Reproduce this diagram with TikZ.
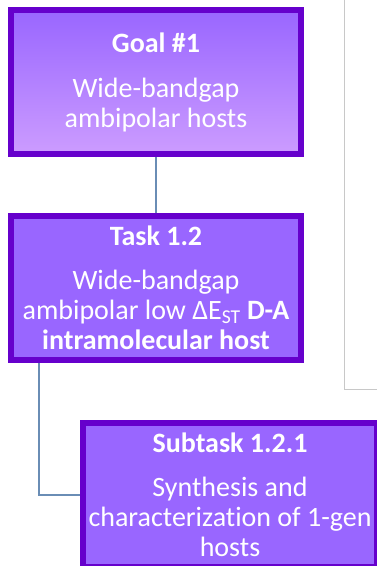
\documentclass[tikz,border=0pt]{standalone}
\usepackage{fontspec}
\setmainfont[RawFeature=-liga]{Carlito}
\definecolor{boxborder}{HTML}{6600CC}
\definecolor{boxfill}{HTML}{9966FF}
\definecolor{goaltop}{HTML}{9966FF}
\definecolor{goalbot}{HTML}{CC9CFF}
\definecolor{conn}{HTML}{6A8DB5}
\definecolor{graybar}{HTML}{C8C8C8}
\tikzset{
  wbox/.style={draw=boxborder, line width=6pt, minimum width=290pt, minimum height=144pt,
    inner sep=0pt, align=center, text=white,
    font=\fontsize{28}{30}\selectfont},
  link/.style={draw=conn, line width=2pt},
}
\begin{document}
\begin{tikzpicture}[x=1pt,y=-1pt]
\clip (0,0) rectangle (377,566);
\fill[white] (0,0) rectangle (377,566);
% light gray frame line at right
\draw[graybar, line width=1pt] (344,0) -- (344,389) -- (377,389);
\node[wbox, top color=goaltop, bottom color=goalbot] (goal) at (156,82)
  {\textbf{Goal \#1}\\[15pt]Wide-bandgap\\ambipolar hosts};
\node[wbox, fill=boxfill] (task) at (156,288)
  {\textbf{Task 1.2}\\[14pt]Wide-bandgap\\ambipolar low ΔE\textsubscript{ST} \textbf{D-A}\\\textbf{intramolecular host}};
\node[wbox, fill=boxfill, minimum width=294pt] (sub) at (230,495)
  {\textbf{Subtask 1.2.1}\\[14pt]Synthesis and\\characterization of 1-gen\\hosts};
\draw[link] (goal.south) -- (task.north);
\draw[link] ([xshift=31pt]task.south west) |- (sub.west);
\end{tikzpicture}
\end{document}
